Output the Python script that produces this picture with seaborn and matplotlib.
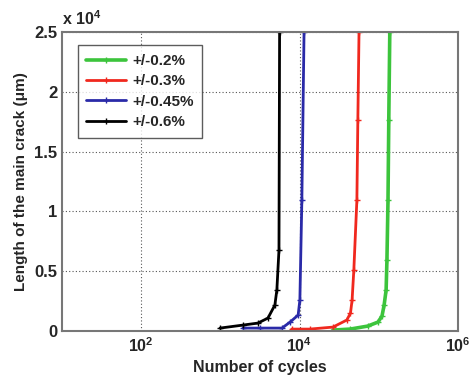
import numpy as np
import pandas as pd
import matplotlib
matplotlib.use("Agg")
import matplotlib.pyplot as plt
import seaborn as sns
from matplotlib.ticker import FixedLocator, FuncFormatter, NullLocator

series_names = ["+/-0.2%", "+/-0.3%", "+/-0.45%", "+/-0.6%"]
colors = ["#3cc43c", "#f0281e", "#2a2aa8", "#000000"]

cycles_02 = [26400, 43600, 72600, 98000, 110000, 117000, 124000, 127000, 131000, 134000, 138000]
length_02 = [84, 167, 418, 753, 1254, 2174, 3428, 5936, 10953, 17642, 25000]

cycles_03 = [7960, 13500, 26400, 39500, 44000, 46100, 48500, 53000, 54500, 56400]
length_03 = [167, 167, 334, 920, 1500, 2592, 5100, 10953, 17642, 25000]

cycles_045 = [1930, 3160, 6000, 7600, 9600, 10100, 10700, 11400]
length_045 = [251, 251, 251, 753, 1338, 2592, 10953, 25000]

cycles_06 = [990, 1930, 2980, 3990, 4880, 5170, 5500, 5600]
length_06 = [251, 502, 669, 1087, 2174, 3428, 6773, 25000]

rows = []
for name, xs, ys in zip(series_names,
                        [cycles_02, cycles_03, cycles_045, cycles_06],
                        [length_02, length_03, length_045, length_06]):
    for x, y in zip(xs, ys):
        rows.append({"cycles": x, "length": y, "series": name})
df = pd.DataFrame(rows)

sns.set_style("white")
plt.rcParams["font.family"] = ["Liberation Sans", "DejaVu Sans"]
plt.rcParams["font.weight"] = "bold"
plt.rcParams["mathtext.fontset"] = "custom"
plt.rcParams["mathtext.rm"] = "Liberation Sans:bold"
plt.rcParams["mathtext.bf"] = "Liberation Sans:bold"
plt.rcParams["mathtext.it"] = "Liberation Sans:bold"
plt.rcParams["mathtext.default"] = "bf"

fig = plt.figure(figsize=(4.75, 3.81), dpi=100)
ax = fig.add_axes([0.1305, 0.131, 0.8335, 0.785])

sns.lineplot(data=df, x="cycles", y="length", hue="series", hue_order=series_names,
             palette=colors, marker="+", markersize=4, markeredgewidth=1,
             sort=False, estimator=None, linewidth=2, ax=ax)

widths = {"+/-0.2%": 2.6, "+/-0.3%": 2.0, "+/-0.45%": 2.0, "+/-0.6%": 2.0}
for line in ax.lines:
    line.set_markeredgecolor(line.get_color())

ax.set_xscale("log")
ax.set_xlim(10, 1e6)
ax.set_ylim(0, 25000)
ax.xaxis.set_major_locator(FixedLocator([1e2, 1e4, 1e6]))
ax.xaxis.set_minor_locator(NullLocator())
ax.set_xticklabels(["$10^2$", "$10^4$", "$10^6$"])
ax.yaxis.set_major_locator(FixedLocator([0, 5000, 10000, 15000, 20000, 25000]))
ax.yaxis.set_major_formatter(FuncFormatter(lambda v, p: f"{v/1e4:g}"))

ax.grid(True, which="major", linestyle=(0, (1, 2)), color="#555555", linewidth=0.8)
ax.tick_params(direction="in", length=4, labelsize=12, color="#555555")
ax.tick_params(axis="x", labelsize=11.5)
for s in ax.spines.values():
    s.set_color("#777777")
    s.set_linewidth(1.5)

ax.set_xlabel("Number of cycles", fontsize=11.5, fontweight="bold")
ax.set_ylabel("Length of the main crack (\u03bcm)", fontsize=11, fontweight="bold")
ax.text(0.0, 1.015, "x 10$^4$", transform=ax.transAxes, fontsize=11.5, ha="left", va="bottom")

leg = ax.legend(loc="upper left", bbox_to_anchor=(0.04, 0.955), borderaxespad=0,
                frameon=True, fancybox=False, handlelength=2.6,
                handletextpad=0.4, labelspacing=0.42, borderpad=0.55,
                prop={"size": 11, "weight": "bold"})
leg.get_frame().set_edgecolor("#333333")
leg.get_frame().set_linewidth(1.0)
leg.set_title(None)
for h in leg.get_lines():
    h.set_markeredgecolor(h.get_color())
    h.set_linewidth(2.0)
leg.get_lines()[0].set_linewidth(2.6)

for line, name in zip(ax.lines[:4], series_names):
    line.set_linewidth(widths[name])

fig.savefig("out.png", dpi=100)
